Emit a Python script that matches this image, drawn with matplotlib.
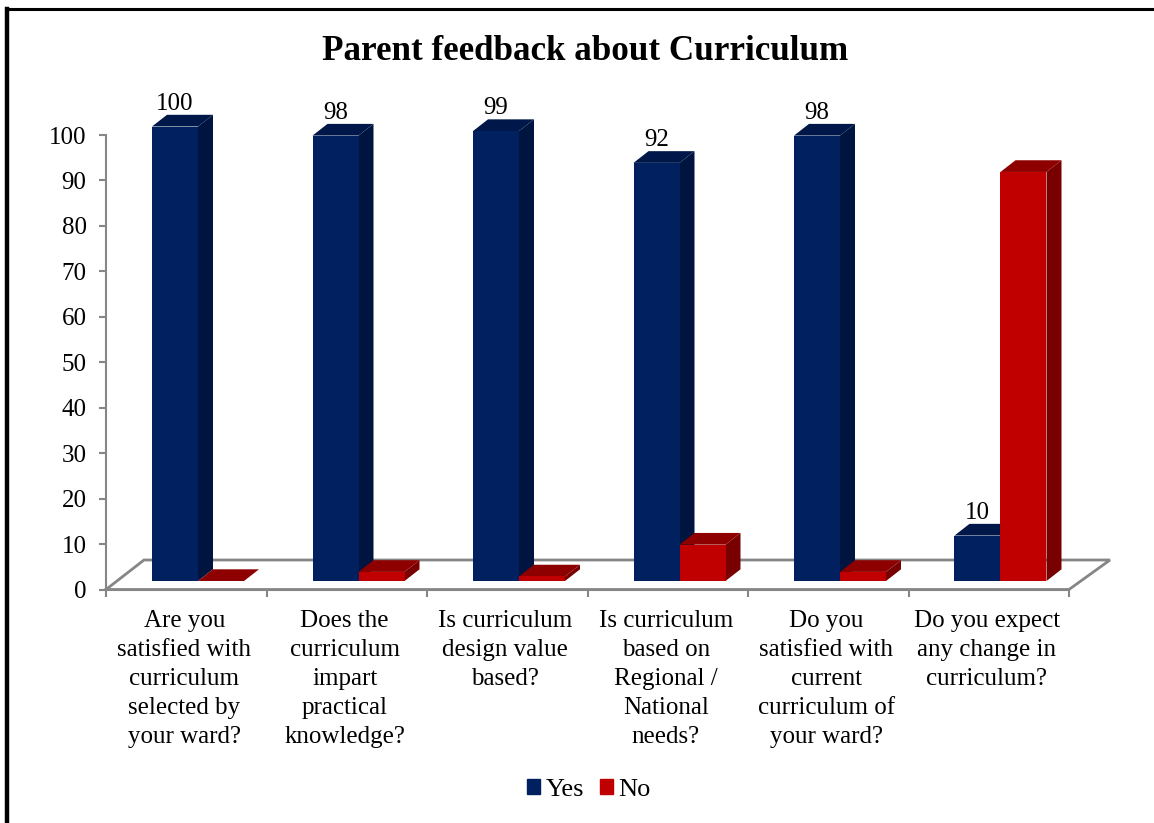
import matplotlib
matplotlib.use('Agg')
import numpy as np
import matplotlib.pyplot as plt
from matplotlib.patches import Polygon, Rectangle
from matplotlib.lines import Line2D

plt.rcParams['font.family'] = ['Liberation Serif', 'DejaVu Serif']

categories = ['Are you\nsatisfied with\ncurriculum\nselected by\nyour ward?',
              'Does the\ncurriculum\nimpart\npractical\nknowledge?',
              'Is curriculum\ndesign value\nbased?',
              'Is curriculum\nbased on\nRegional /\nNational\nneeds?',
              'Do you\nsatisfied with\ncurrent\ncurriculum of\nyour ward?',
              'Do you expect\nany change in\ncurriculum?']
yes_values = [100, 98, 99, 92, 98, 10]
no_values = [0, 2, 1, 8, 2, 90]

W, H = 1154, 823
fig = plt.figure(figsize=(W / 100, H / 100), dpi=100)
ax = fig.add_axes([106 / W, 1 - 589.5 / H, (1069 - 106) / W, (589.5 - 135) / H])
ax.set_xlim(0, 6)
ax.set_ylim(0, 100)

# pixels to data units, the 3d look is only an offset
px_x = 6 / (1069 - 106)
px_y = 100 / (589.5 - 135)
depth_x = 15 * px_x
depth_y = 11.7 * px_y
bar_w = 46 * px_x
base = 8.5 * px_y
group_left = 46 * px_x

# floor
floor = [(0, 0), (6, 0), (6 + 41 * px_x, 29.5 * px_y), (38 * px_x, 29.5 * px_y), (0, 0)]
fx, fy = zip(*floor)
ax.plot(fx, fy, color='#868686', lw=2, clip_on=False, zorder=1, solid_joinstyle='miter')


def draw_bar(x, value, front, side, top, z):
    y0 = base
    y1 = base + value
    ax.bar(x, value, width=bar_w, bottom=base, align='edge', color=front, linewidth=0,
           zorder=z + 1, clip_on=False)
    ax.add_patch(Polygon([(x + bar_w, y0), (x + bar_w + depth_x, y0 + depth_y),
                          (x + bar_w + depth_x, y1 + depth_y), (x + bar_w, y1)],
                         facecolor=side, edgecolor='none', zorder=z, clip_on=False))
    ax.add_patch(Polygon([(x, y1), (x + bar_w, y1), (x + bar_w + depth_x, y1 + depth_y),
                          (x + depth_x, y1 + depth_y)],
                         facecolor=top, edgecolor='none', zorder=z, clip_on=False))


for i in range(len(categories)):
    x_yes = i + group_left
    x_no = x_yes + bar_w
    draw_bar(x_yes, yes_values[i], '#002060', '#001440', '#00174A', 2)
    draw_bar(x_no, no_values[i], '#C00000', '#790000', '#8E0000', 4)
    ax.annotate(str(yes_values[i]), (x_yes + bar_w / 2, base + yes_values[i]),
                xytext=(0, 16.5), textcoords='offset points', ha='center', va='center',
                fontsize=18, color='black', annotation_clip=False, zorder=7)

for s in ['top', 'right']:
    ax.spines[s].set_visible(False)
for s in ['left', 'bottom']:
    ax.spines[s].set_color('#868686')
    ax.spines[s].set_linewidth(1.5)

ax.set_yticks(np.arange(0, 101, 10))
ax.set_xticks(np.arange(0, 7))
ax.set_xticklabels([])
ax.set_xticks(np.arange(6) + 0.5 - 2 * px_x, categories, minor=True, fontsize=18, linespacing=1.41)
ax.tick_params(axis='x', which='major', color='#868686', width=1.5, length=5)
ax.tick_params(axis='x', which='minor', length=0, pad=15)
ax.tick_params(axis='y', color='#868686', width=1.5, length=5, labelsize=18, pad=9)

ax.set_title('Parent feedback about Curriculum', fontsize=25.2, fontweight='bold',
             x=(585 - 106) / (1069 - 106), y=1.166, va='center')

handles = [Rectangle((0, 0), 1, 1, color='#002060'), Rectangle((0, 0), 1, 1, color='#C00000')]
fig.legend(handles, ['Yes', 'No'], ncol=2, loc='center', bbox_to_anchor=(589 / W, 1 - 790 / H),
           frameon=False, fontsize=19, handlelength=0.49, handleheight=0.49,
           handletextpad=0.23, columnspacing=0.57, borderpad=0)

# outer frame of the picture, only left and top
fig.add_artist(Line2D([7.2 / W, 7.2 / W], [0, 1 - 8.5 / H], color='black', lw=3.2, solid_capstyle='projecting'))
fig.add_artist(Line2D([7.2 / W, 1], [1 - 8.5 / H, 1 - 8.5 / H], color='black', lw=2.2))

fig.savefig('out.png', dpi=100)
